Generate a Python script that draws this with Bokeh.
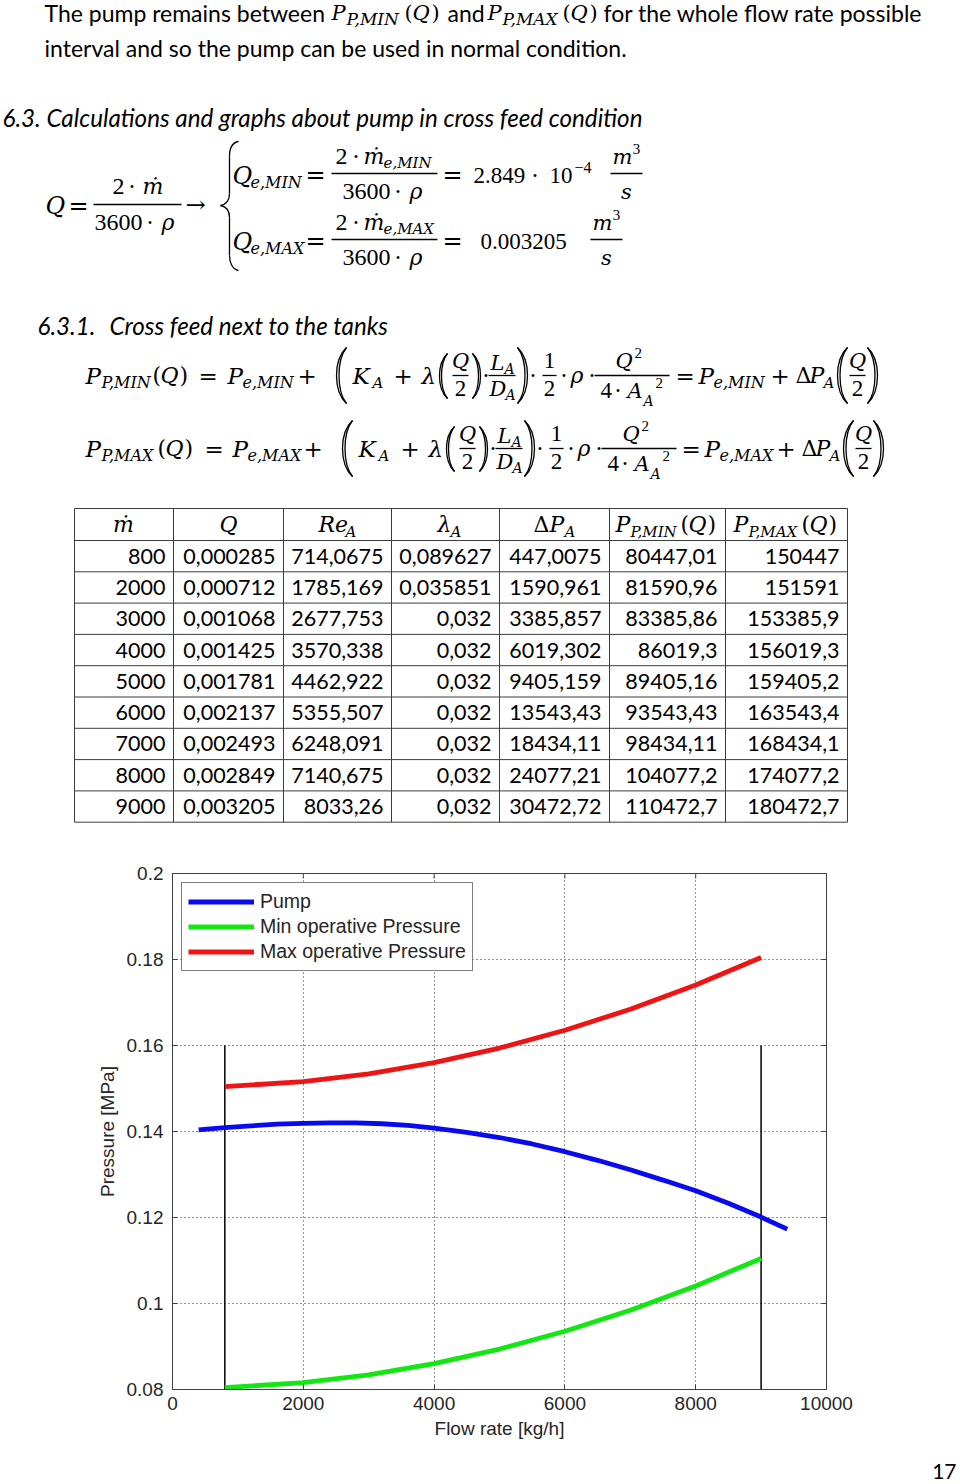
from bokeh.plotting import figure
from bokeh.models import Range1d, FixedTicker, ColumnDataSource
from bokeh.layouts import column
from bokeh.embed import file_html
from bokeh.resources import INLINE
from bokeh.core.properties import value

# ---------------- data ----------------
m_dot = [800, 2000, 3000, 4000, 5000, 6000, 7000, 8000, 9000]
q_flow = [0.000285, 0.000712, 0.001068, 0.001425, 0.001781, 0.002137, 0.002493, 0.002849, 0.003205]
re_a = [714.0675, 1785.169, 2677.753, 3570.338, 4462.922, 5355.507, 6248.091, 7140.675, 8033.26]
lambda_a = [0.089627, 0.035851, 0.032, 0.032, 0.032, 0.032, 0.032, 0.032, 0.032]
delta_p = [447.0075, 1590.961, 3385.857, 6019.302, 9405.159, 13543.43, 18434.11, 24077.21, 30472.72]
p_min_pa = [80447.01, 81590.96, 83385.86, 86019.3, 89405.16, 93543.43, 98434.11, 104077.2, 110472.7]
p_max_pa = [150447, 151591, 153385.9, 156019.3, 159405.2, 163543.4, 168434.1, 174077.2, 180472.7]

# chart series (MPa)
min_press_mpa = [0.08045, 0.08159, 0.08339, 0.08602, 0.08941, 0.09354, 0.09843, 0.10408, 0.11047]
max_press_mpa = [0.15045, 0.15159, 0.15339, 0.15602, 0.15941, 0.16354, 0.16843, 0.17408, 0.18047]
pump_flow = [400, 800, 1200, 1600, 2000, 2400, 2800, 3200, 3600, 4000, 4500, 5000,
             5500, 6000, 6500, 7000, 7500, 8000, 8500, 9000, 9400]
pump_mpa = [0.1404, 0.1409, 0.1413, 0.1417, 0.1419, 0.1420, 0.1420, 0.1418, 0.1414, 0.1408, 0.1398, 0.1386,
            0.1371, 0.1353, 0.1333, 0.1311, 0.1287, 0.1262, 0.1233, 0.1201, 0.1173]
limit_flow = [800, 9000]
limit_low = [0.08, 0.08]
limit_high = [0.16, 0.16]

x_ticks = [0, 2000, 4000, 6000, 8000, 10000]
x_tick_labels = ["0", "2000", "4000", "6000", "8000", "10000"]
y_ticks = [0.08, 0.1, 0.12, 0.14, 0.16, 0.18, 0.2]
y_tick_labels = ["0.08", "0.1", "0.12", "0.14", "0.16", "0.18", "0.2"]
legend_labels = ["Pump", "Min operative Pressure", "Max operative Pressure"]

# ---------------- text helpers ----------------
SANS = "Lato"
MI = "DejaVu Serif"
MN = "Liberation Serif"
BODY = 23
HEAD = 24.2
cols = {k: [] for k in ["x", "y", "text", "size", "font", "style", "align"]}


def T(x, y, s, size=BODY, font=SANS, style="normal", align="left"):
    cols["x"].append(x)
    cols["y"].append(y)
    cols["text"].append(s)
    cols["size"].append(f"{size}px")
    cols["font"].append(font)
    cols["style"].append(style)
    cols["align"].append(align)


def mi(x, y, s, size=22, align="left"):
    T(x, y, s, size, MI, "italic", align)


def mo(x, y, s, size=22, align="left"):
    T(x, y, s, size, MI, "normal", align)


def mn(x, y, s, size=23, align="left"):
    T(x, y, s, size, MN, "normal", align)


bars = []   # straight strokes (x0, y0, x1, y1)
bz = []     # bezier curves


def bar(x0, x1, y):
    bars.append((x0, y, x1, y))


def paren(xa, top, bot, bulge, left=True):
    h = bot - top
    d = -1 if left else 1
    for b in (bulge, bulge * 0.75):
        cx = xa + d * b * 4 / 3
        bz.append((xa, top, xa, bot, cx, top + h * 0.22, cx, bot - h * 0.22))


# ---------------- paragraph ----------------
T(44, 12, "The pump remains between")
mi(331, 12, "P", 21); mi(346, 18, "P,MIN", 17)
mo(404, 12, "(", 21); mi(412, 12, "Q", 21); mo(431, 12, ")", 21)
T(447, 12, "and")
mi(487, 12, "P", 21); mi(502, 18, "P,MAX", 17)
mo(562, 12, "(", 21); mi(570, 12, "Q", 21); mo(589, 12, ")", 21)
T(603, 12, "for the whole flow rate possible")
T(44, 47, "interval and so the pump can be used in normal condition.")
T(2, 117, "6.3. Calculations and graphs about pump in cross feed condition", size=HEAD, style="italic")

# ---------------- block 1 ----------------
y0 = 205
mi(45, y0, "Q", 24); mo(68, y0, "=", 24)
mn(112, y0 - 19, "2", 24); mo(128, y0 - 19, "·", 22); mi(142, y0 - 19, "ṁ", 22)
bar(93, 181, y0 - 1)
mn(94, y0 + 17, "3600", 24); mo(146, y0 + 17, "·", 22); mi(161, y0 + 17, "ρ", 22)
mo(185, y0 - 1, "→", 24)
# brace
bz.append((238, 141, 229, 156, 232, 142, 229, 148))
bars.append((229, 156, 229, 193))
bz.append((229, 193, 220, 205, 229, 200, 225, 204))
bz.append((220, 205, 229, 217, 225, 206, 229, 210))
bars.append((229, 217, 229, 255))
bz.append((229, 255, 238, 270, 229, 262, 232, 269))

for (yr, lab, val, vx, exp) in ((175, "e,MIN", "2.849", 473, True), (241, "e,MAX", "0.003205", 480, False)):
    mi(232, yr, "Q", 24); mi(250, yr + 7, lab, 16)
    mo(305, yr - 1, "=", 24)
    mn(335, yr - 19, "2", 24); mo(352, yr - 19, "·", 22); mi(363, yr - 19, "ṁ", 22); mi(383, yr - 13, lab, 15)
    bar(331, 437, yr - 2)
    mn(342, yr + 16, "3600", 24); mo(394, yr + 16, "·", 22); mi(409, yr + 16, "ρ", 22)
    mo(442, yr - 1, "=", 24)
    mn(vx, yr, val, 23)
    if exp:
        mo(531, yr, "·", 22); mn(549, yr, "10", 23); mn(574, yr - 8, "−4", 16)
        mx = 626
    else:
        mx = 606
    mi(mx - 4, yr - 19, "m", 21, "center"); mn(mx + 10, yr - 27, "3", 15, "center")
    bar(mx - 16, mx + 16, yr - 2)
    mi(mx, yr + 16, "s", 21, "center")

# ---------------- section 6.3.1 ----------------
T(37, 325, "6.3.1.", size=HEAD, style="italic")
T(109, 325, "Cross feed next to the tanks", size=HEAD, style="italic")


def row(y0, lab1, lab2, s):
    mi(85, y0, "P", 23); mi(101, y0 + 7, lab1, 16)
    mo(s["p1"], y0, "(", 22); mi(s["p1"] + 8, y0, "Q", 22); mo(s["p1"] + 27, y0, ")", 22)
    mo(s["eq1"], y0, "=", 23)
    mi(s["pe"], y0, "P", 23); mi(s["pe"] + 15, y0 + 7, lab2, 16)
    mo(s["plus1"], y0, "+", 23)
    paren(s["bp"] + 10, y0 - 28, y0 + 28, 10, True)
    mi(s["bp"] + 16, y0, "K", 23); mi(s["bp"] + 36, y0 + 7, "A", 15)
    mo(s["plus2"], y0, "+", 23)
    mi(s["lam"], y0, "λ", 23)
    paren(s["lam"] + 26, y0 - 22, y0 + 23, 8, True)
    qc = s["lam"] + 39
    mi(qc, y0 - 15, "Q", 21, "center"); mn(qc, y0 + 13, "2", 23, "center"); bar(qc - 8, qc + 8, y0)
    paren(qc + 12, y0 - 22, y0 + 23, 8, False)
    mo(qc + 22, y0, "·", 22)
    lx = qc + 29
    mi(lx + 1, y0 - 13, "L", 21); mi(lx + 15, y0 - 7, "A", 14)
    bar(lx - 1, lx + 26, y0)
    mi(lx, y0 + 13, "D", 21); mi(lx + 16, y0 + 19, "A", 14)
    paren(lx + 28, y0 - 28, y0 + 28, 10, False)
    mo(lx + 40, y0, "·", 22)
    oc = lx + 60
    mn(oc, y0 - 15, "1", 23, "center"); mn(oc, y0 + 13, "2", 23, "center"); bar(oc - 7, oc + 7, y0)
    mo(oc + 11, y0, "·", 22); mi(oc + 21, y0, "ρ", 22); mo(oc + 39, y0, "·", 22)
    fx = oc + 45
    mi(fx + 21, y0 - 15, "Q", 21); mn(fx + 40, y0 - 23, "2", 15)
    bar(fx, fx + 75, y0)
    mn(fx + 6, y0 + 15, "4", 23); mo(fx + 20, y0 + 15, "·", 22); mi(fx + 33, y0 + 15, "A", 21)
    mi(fx + 49, y0 + 25, "A", 14); mn(fx + 61, y0 + 7, "2", 15)
    mo(s["eq2"], y0, "=", 23)
    mi(s["eq2"] + 23, y0, "P", 23); mi(s["eq2"] + 38, y0 + 7, lab2, 16)
    mo(s["plus3"], y0, "+", 23)
    mo(s["d"], y0, "Δ", 22); mi(s["d"] + 14, y0, "P", 22); mi(s["d"] + 28, y0 + 7, "A", 15)
    pc = s["d"] + 62
    paren(pc - 10, y0 - 28, y0 + 28, 10, True)
    mi(pc, y0 - 15, "Q", 21, "center"); mn(pc, y0 + 13, "2", 23, "center"); bar(pc - 8, pc + 8, y0)
    paren(pc + 10, y0 - 28, y0 + 28, 10, False)


row(375, "P,MIN", "e,MIN", dict(p1=152, eq1=198, pe=227, plus1=297, bp=336, plus2=393, lam=421,
                                 eq2=675, plus3=770, d=795))
row(448, "P,MAX", "e,MAX", dict(p1=157, eq1=204, pe=232, plus1=303, bp=342, plus2=400, lam=428,
                                 eq2=681, plus3=776, d=801))

# ---------------- table ----------------
col_edges = [74, 173, 283, 391, 499, 609, 725, 847]
tbl_top = 508
head_h = 32
row_h = 31.3
n_rows = len(m_dot)
tbl_bot = tbl_top + head_h + row_h * n_rows
tl = []
tl.append((col_edges[0], tbl_top, col_edges[-1], tbl_top))
for i in range(n_rows + 1):
    yy = tbl_top + head_h + row_h * i
    tl.append((col_edges[0], yy, col_edges[-1], yy))
for xe in col_edges:
    tl.append((xe, tbl_top, xe, tbl_bot))

hy = tbl_top + head_h / 2
mi(123, hy, "ṁ", 22, "center")
mi(228, hy, "Q", 22, "center")
mi(318, hy, "Re", 22); mi(345, hy + 7, "A", 15)
mi(437, hy, "λ", 22); mi(450, hy + 7, "A", 15)
mo(533, hy, "Δ", 22); mi(549, hy, "P", 22); mi(564, hy + 7, "A", 15)
mi(615, hy, "P", 22); mi(630, hy + 7, "P,MIN", 15); mo(680, hy, "(", 22); mi(688, hy, "Q", 22); mo(707, hy, ")", 22)
mi(733, hy, "P", 22); mi(748, hy + 7, "P,MAX", 15); mo(801, hy, "(", 22); mi(809, hy, "Q", 22); mo(828, hy, ")", 22)


def fmt(v):
    return repr(v).replace(".", ",")


table_cols = [m_dot, q_flow, re_a, lambda_a, delta_p, p_min_pa, p_max_pa]
for j, colv in enumerate(table_cols):
    for i, v in enumerate(colv):
        T(col_edges[j + 1] - 8, tbl_top + head_h + row_h * (i + 0.5), fmt(v), 21.5, SANS, "normal", "right")

# ---------------- top figure ----------------
top = figure(width=960, height=845, x_range=Range1d(0, 960), y_range=Range1d(845, 0),
             output_backend="svg", toolbar_location=None, x_axis_type=None, y_axis_type=None,
             min_border=0, frame_align=False)
top.grid.visible = False
top.outline_line_color = None
top.segment([s[0] for s in tl], [s[1] for s in tl], [s[2] for s in tl], [s[3] for s in tl],
            line_color="#3c3c3c", line_width=1)
top.segment([b[0] for b in bars], [b[1] for b in bars], [b[2] for b in bars], [b[3] for b in bars],
            line_color="black", line_width=1.3)
top.bezier(x0=[b[0] for b in bz], y0=[b[1] for b in bz], x1=[b[2] for b in bz], y1=[b[3] for b in bz],
           cx0=[b[4] for b in bz], cy0=[b[5] for b in bz], cx1=[b[6] for b in bz], cy1=[b[7] for b in bz],
           line_color="black", line_width=1.3)
src = ColumnDataSource(cols)
top.text(x="x", y="y", text="text", source=src, text_font="font", text_font_size="size",
         text_font_style="style", text_align="align", text_baseline="middle", text_color="#000000")

# ---------------- chart ----------------
AX = "#404040"
LBL = "#262626"
CF = "Liberation Sans"
FRAME_W, FRAME_H = 654, 516
p = figure(width=960, height=605, x_range=Range1d(0, 10000), y_range=Range1d(0.08, 0.2),
           output_backend="svg", toolbar_location=None, frame_align=False,
           min_border_left=172, min_border_right=134, min_border_top=28, min_border_bottom=61)
p.outline_line_color = AX
p.outline_line_width = 1
for ax, tk, labs in ((p.xaxis[0], x_ticks, x_tick_labels), (p.yaxis[0], y_ticks, y_tick_labels)):
    ax.ticker = FixedTicker(ticks=tk)
    ax.major_label_overrides = {t: l for t, l in zip(tk, labs)}
    ax.major_tick_in = 5
    ax.major_tick_out = 0
    ax.minor_tick_line_color = None
    ax.axis_line_color = AX
    ax.major_tick_line_color = AX
    ax.major_label_text_font = CF
    ax.major_label_text_font_size = "19px"
    ax.major_label_text_color = LBL
    ax.axis_label_text_font = CF
    ax.axis_label_text_font_size = "19px"
    ax.axis_label_text_font_style = "normal"
    ax.axis_label_text_color = LBL
p.xaxis[0].axis_label = "Flow rate [kg/h]"
p.xaxis[0].major_label_standoff = 7
p.xaxis[0].axis_label_standoff = 5
p.yaxis[0].axis_label = "Pressure [MPa]"
p.yaxis[0].major_label_standoff = 9
p.yaxis[0].axis_label_standoff = 6

# inward ticks on the top and right edges of the box
x0r, x1r, y0r, y1r = 0, 10000, 0.08, 0.2
tdx = 5 * (x1r - x0r) / FRAME_W
tdy = 5 * (y1r - y0r) / FRAME_H
p.segment(x_ticks, [y1r] * len(x_ticks), x_ticks, [y1r - tdy] * len(x_ticks), line_color=AX, line_width=1)
p.segment([x1r] * len(y_ticks), y_ticks, [x1r - tdx] * len(y_ticks), y_ticks, line_color=AX, line_width=1)

p.xgrid.ticker = FixedTicker(ticks=x_ticks)
p.ygrid.ticker = FixedTicker(ticks=y_ticks)
p.grid.grid_line_color = "#000000"
p.grid.grid_line_alpha = 0.85
p.grid.grid_line_dash = "1 3"
p.grid.grid_line_width = 1

p.segment(limit_flow, limit_low, limit_flow, limit_high, line_color="black", line_width=1.5)
p.line(pump_flow, pump_mpa, line_color="#0a0aee", line_width=4.8, legend_label=legend_labels[0])
p.line(m_dot, min_press_mpa, line_color="#14e614", line_width=4.8, legend_label=legend_labels[1])
p.line(m_dot, max_press_mpa, line_color="#ee1414", line_width=4.8, legend_label=legend_labels[2])

lg = p.legend[0]
lg.location = "top_left"
lg.margin = 9
lg.padding = 6
lg.spacing = 0
lg.label_text_font = CF
lg.label_text_font_size = "19.5px"
lg.label_text_color = LBL
lg.label_height = 25
lg.glyph_height = 25
lg.glyph_width = 66
lg.label_standoff = 6
lg.border_line_color = "black"
lg.border_line_width = 1
lg.background_fill_alpha = 1.0

# ---------------- page number ----------------
tail = figure(width=960, height=34, x_range=Range1d(0, 960), y_range=Range1d(34, 0),
              output_backend="svg", toolbar_location=None, x_axis_type=None, y_axis_type=None,
              min_border=0, frame_align=False)
tail.grid.visible = False
tail.outline_line_color = None
tail.text(x=[956], y=[21], text=["17"], text_font=value(SANS), text_font_size="21px",
          text_align="right", text_baseline="middle", text_color="#000000")

page = column(top, p, tail, spacing=0)
open("out.html", "w").write(file_html(page, INLINE))
